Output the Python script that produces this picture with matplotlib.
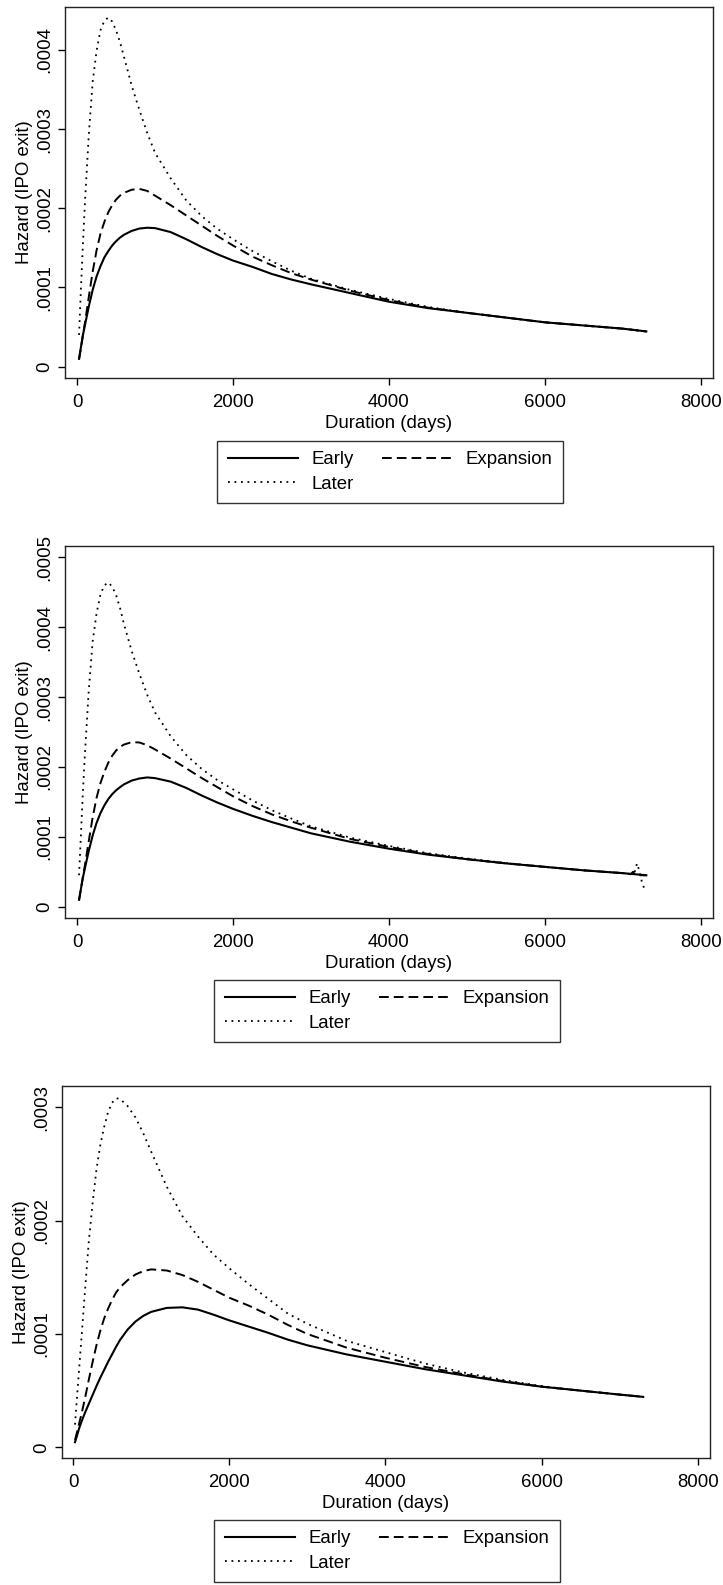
import matplotlib.pyplot as plt
import numpy as np

plt.rcParams['font.family'] = ['Liberation Sans', 'DejaVu Sans']
plt.rcParams['font.size'] = 13.4

# duration grid (days) used for reading the curves
days = [25, 50, 75, 100, 150, 200, 250, 300, 350, 400, 450, 500, 550, 600, 700,
        800, 900, 1000, 1200, 1400, 1600, 1800, 2000, 2250, 2500, 2750, 3000,
        3500, 4000, 4500, 5000, 5500, 6000, 6500, 7000, 7300]

# hazard values, in units of 1e-4
early_1 = [0.10, 0.25, 0.40, 0.52, 0.76, 0.97, 1.14, 1.27, 1.38, 1.46, 1.53, 1.585, 1.63, 1.665, 1.715,
           1.745, 1.755, 1.75, 1.70, 1.61, 1.51, 1.42, 1.34, 1.26, 1.17, 1.10, 1.04,
           0.93, 0.82, 0.74, 0.68, 0.62, 0.56, 0.52, 0.48, 0.445]
expansion_1 = [0.09, 0.24, 0.40, 0.55, 0.88, 1.20, 1.47, 1.68, 1.83, 1.95, 2.04, 2.11, 2.16, 2.195, 2.235,
               2.245, 2.22, 2.16, 2.04, 1.91, 1.78, 1.65, 1.53, 1.39, 1.28, 1.18, 1.10,
               0.96, 0.84, 0.745, 0.68, 0.62, 0.56, 0.52, 0.48, 0.445]
later_1 = [0.40, 1.00, 1.55, 2.06, 2.93, 3.60, 3.99, 4.25, 4.37, 4.41, 4.36, 4.25, 4.10, 3.92, 3.55,
           3.24, 2.95, 2.70, 2.38, 2.10, 1.90, 1.74, 1.61, 1.46, 1.33, 1.21, 1.11,
           0.97, 0.855, 0.755, 0.68, 0.62, 0.56, 0.52, 0.48, 0.445]

early_2 = [0.10, 0.26, 0.42, 0.55, 0.80, 1.02, 1.20, 1.34, 1.45, 1.54, 1.61, 1.665, 1.71, 1.75, 1.805,
           1.835, 1.85, 1.84, 1.79, 1.70, 1.59, 1.49, 1.40, 1.30, 1.21, 1.13, 1.05,
           0.93, 0.83, 0.745, 0.68, 0.62, 0.57, 0.52, 0.48, 0.45]
expansion_2 = [0.09, 0.26, 0.43, 0.59, 0.94, 1.28, 1.56, 1.77, 1.93, 2.06, 2.16, 2.235, 2.285, 2.32, 2.355,
               2.35, 2.31, 2.25, 2.12, 1.98, 1.84, 1.71, 1.58, 1.44, 1.32, 1.22, 1.13,
               0.97, 0.855, 0.755, 0.68, 0.62, 0.57, 0.52, 0.48]
later_2 = [0.45, 1.05, 1.65, 2.18, 3.10, 3.80, 4.20, 4.47, 4.60, 4.64, 4.58, 4.46, 4.28, 4.05, 3.66,
           3.33, 3.03, 2.78, 2.44, 2.17, 1.97, 1.81, 1.68, 1.52, 1.38, 1.26, 1.15,
           0.99, 0.87, 0.765, 0.69, 0.625, 0.57, 0.52, 0.48]
# the panel 2 estimates get noisy right at the end
expansion_2_end_days = [7100, 7130, 7160, 7300]
expansion_2_end = [0.465, 0.50, 0.45, 0.45]
later_2_end_days = [7130, 7160, 7180, 7200, 7240, 7270]
later_2_end = [0.465, 0.52, 0.62, 0.55, 0.37, 0.27]

early_3 = [0.045, 0.10, 0.16, 0.21, 0.30, 0.38, 0.46, 0.54, 0.615, 0.685, 0.755, 0.82, 0.885, 0.945, 1.04,
           1.11, 1.16, 1.195, 1.23, 1.235, 1.215, 1.17, 1.12, 1.065, 1.01, 0.95, 0.90,
           0.82, 0.755, 0.69, 0.635, 0.58, 0.535, 0.50, 0.465, 0.445]
expansion_3 = [0.065, 0.13, 0.20, 0.27, 0.42, 0.59, 0.75, 0.90, 1.03, 1.14, 1.225, 1.30, 1.365, 1.41, 1.475,
               1.525, 1.555, 1.57, 1.56, 1.52, 1.46, 1.39, 1.32, 1.25, 1.17, 1.08, 1.00,
               0.88, 0.79, 0.71, 0.645, 0.585, 0.535, 0.50, 0.465, 0.445]
later_3 = [0.20, 0.43, 0.66, 0.89, 1.35, 1.80, 2.15, 2.45, 2.67, 2.83, 2.96, 3.04, 3.08, 3.075, 3.01,
           2.91, 2.77, 2.61, 2.30, 2.04, 1.86, 1.70, 1.58, 1.44, 1.31, 1.18, 1.09,
           0.94, 0.84, 0.74, 0.66, 0.595, 0.54, 0.50, 0.465, 0.445]

series_names = ["Early", "Expansion", "Later"]
xticks = [0, 2000, 4000, 6000, 8000]
yticks_1 = [0, 1e-4, 2e-4, 3e-4, 4e-4]
ytick_labels_1 = ["0", ".0001", ".0002", ".0003", ".0004"]
yticks_2 = [0, 1e-4, 2e-4, 3e-4, 4e-4, 5e-4]
ytick_labels_2 = ["0", ".0001", ".0002", ".0003", ".0004", ".0005"]
yticks_3 = [0, 1e-4, 2e-4, 3e-4]
ytick_labels_3 = ["0", ".0001", ".0002", ".0003"]

W, H = 723, 1585
fig = plt.figure(figsize=(W / 100, H / 100), dpi=100)

styles = [dict(linestyle='-', linewidth=1.5),
          dict(linestyle=(0, (5, 2.6)), linewidth=1.4),
          dict(linestyle=(0, (1, 2.6)), linewidth=1.3)]


def panel(rect, curves, ylim, xlim, yticks, ylabels, legend_top, legend_cx):
    """one hazard panel plus its legend box underneath"""
    ax = fig.add_axes([rect[0] / W, 1 - rect[3] / H, (rect[2] - rect[0]) / W, (rect[3] - rect[1]) / H])
    handles = []
    for (x, y), name, st in zip(curves, series_names, styles):
        ln, = ax.plot(x, np.array(y) * 1e-4, color='black', label=name, **st)
        handles.append(ln)

    ax.set_xlim(*xlim)
    ax.set_ylim(*ylim)
    ax.set_xticks(xticks)
    ax.set_yticks(yticks)
    ax.set_yticklabels(ylabels, rotation=90, va='center')
    ax.tick_params(direction='out', length=5, width=1, color='black')
    ax.tick_params(axis='x', pad=6.5)
    ax.tick_params(axis='y', pad=3.5)
    for s in ax.spines.values():
        s.set_linewidth(1)
        s.set_color('#222222')
    ax.set_xlabel("Duration (days)", labelpad=3)
    ax.set_ylabel("Hazard (IPO exit)", labelpad=2)

    # legend reads row-wise: Early, Expansion / Later
    order = [handles[0], handles[2], handles[1]]
    leg = fig.legend(handles=order, ncol=2, loc='upper center',
                     bbox_to_anchor=(legend_cx / W, 1 - legend_top / H), borderaxespad=0,
                     frameon=True, fancybox=False, edgecolor='black',
                     handlelength=3.8, handletextpad=0.7, columnspacing=1.5,
                     labelspacing=0.4, borderpad=0.55)
    leg.get_frame().set_linewidth(1)
    return ax


panel((65, 6.7, 713, 378.3),
      [(days, early_1), (days, expansion_1), (days, later_1)],
      (-0.147e-4, 4.547e-4), (-155, 8155), yticks_1, ytick_labels_1, 441, 390)

panel((65, 546, 713, 918.3),
      [(days, early_2),
       (days[:-1] + expansion_2_end_days, expansion_2 + expansion_2_end),
       (days[:-1] + later_2_end_days, later_2 + later_2_end)],
      (-0.166e-4, 5.162e-4), (-155, 8155), yticks_2, ytick_labels_2, 980, 387)

panel((62, 1086, 710, 1458.3),
      [(days, early_3), (days, expansion_3), (days, later_3)],
      (-0.097e-4, 3.188e-4), (-141, 8155), yticks_3, ytick_labels_3, 1520, 387)

fig.savefig("out.png", dpi=100)
